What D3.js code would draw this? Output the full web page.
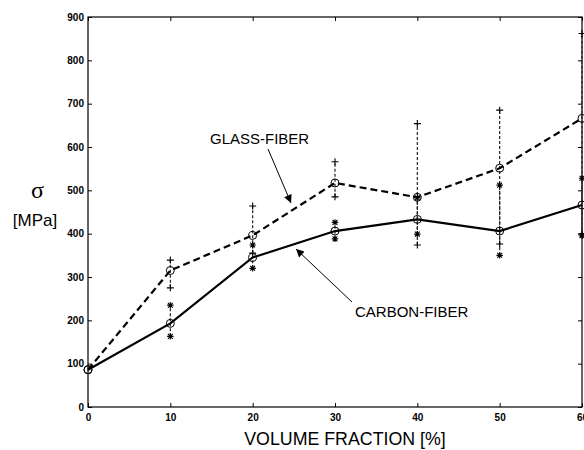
<!DOCTYPE html>
<html><head><meta charset="utf-8">
<script src="https://cdnjs.cloudflare.com/ajax/libs/d3/7.8.5/d3.min.js"></script>
<style>body{margin:0;background:#fff}svg{display:block}</style>
</head><body>
<script>
const fractions = [0, 10, 20, 30, 40, 50, 60];
const glassMean = [86, 315, 396, 517, 484, 551, 666];
const glassLow  = [null, 275, 355, 485, 374, 376, 400];
const glassHigh = [null, 339, 464, 566, 654, 685, 862];
const carbonMean = [86, 193, 345, 406, 433, 406, 466];
const carbonLow  = [null, 163, 320, 388, 399, 350, 395];
const carbonHigh = [null, 235, 374, 426, 483, 512, 528];
const xTicks = [0, 10, 20, 30, 40, 50, 60];
const yTicks = [0, 100, 200, 300, 400, 500, 600, 700, 800, 900];

const W = 584, H = 450;
const svg = d3.select("body").append("svg").attr("width", W).attr("height", H);
const x = d3.scaleLinear().domain([0, 60]).range([88, 582]);
const y = d3.scaleLinear().domain([0, 900]).range([407, 17]);

const tickFont = "'Liberation Sans', Arial, sans-serif";

// axes
const gB = svg.append("g").attr("transform", `translate(0,${y(0)})`)
  .call(d3.axisBottom(x).tickValues(xTicks).tickSize(-4).tickPadding(7).tickFormat(d3.format("d")));
const gL = svg.append("g").attr("transform", `translate(${x(0)},0)`)
  .call(d3.axisLeft(y).tickValues(yTicks).tickSize(-4).tickPadding(4).tickFormat(d3.format("d")));
const gT = svg.append("g").attr("transform", `translate(0,${y(900)})`)
  .call(d3.axisTop(x).tickValues(xTicks).tickSize(-4).tickFormat(""));
const gR = svg.append("g").attr("transform", `translate(${x(60)},0)`)
  .call(d3.axisRight(y).tickValues(yTicks).tickSize(-4).tickFormat(""));
[gB, gL, gT, gR].forEach(g => {
  g.select(".domain").remove();
  g.selectAll("line").attr("stroke", "#000").attr("stroke-width", 1);
  g.selectAll("text").attr("font-family", tickFont).attr("font-weight", "bold")
    .attr("font-size", 10).attr("fill", "#000");
});
svg.append("rect").attr("x", x(0)).attr("y", y(900))
  .attr("width", x(60) - x(0)).attr("height", y(0) - y(900))
  .attr("fill", "none").attr("stroke", "#000").attr("stroke-width", 1.2);

// error bars
function errBars(low, high) {
  fractions.forEach((f, i) => {
    if (low[i] == null) return;
    svg.append("line").attr("x1", x(f)).attr("x2", x(f))
      .attr("y1", y(low[i])).attr("y2", y(high[i]))
      .attr("stroke", "#222").attr("stroke-width", 1.2).attr("stroke-dasharray", "3,2");
  });
}
errBars(glassLow, glassHigh);
errBars(carbonLow, carbonHigh);

// lines
const line = d3.line().x((d, i) => x(fractions[i])).y(d => y(d));
svg.append("path").attr("d", line(glassMean)).attr("fill", "none")
  .attr("stroke", "#000").attr("stroke-width", 2.2).attr("stroke-dasharray", "7,4");
svg.append("path").attr("d", line(carbonMean)).attr("fill", "none")
  .attr("stroke", "#000").attr("stroke-width", 2.2);

// markers
function plus(cx, cy, s) {
  svg.append("path").attr("d", `M${cx - s},${cy}H${cx + s}M${cx},${cy - s}V${cy + s}`)
    .attr("stroke", "#000").attr("stroke-width", 1.1).attr("fill", "none");
}
function star(cx, cy, s) {
  const d = s * 0.75;
  svg.append("path").attr("d",
    `M${cx - s},${cy}H${cx + s}M${cx},${cy - s}V${cy + s}M${cx - d},${cy - d}L${cx + d},${cy + d}M${cx - d},${cy + d}L${cx + d},${cy - d}`)
    .attr("stroke", "#000").attr("stroke-width", 1.1).attr("fill", "none");
}
fractions.forEach((f, i) => {
  if (glassLow[i] != null) { plus(x(f), y(glassLow[i]), 3.5); plus(x(f), y(glassHigh[i]), 3.5); }
  if (carbonLow[i] != null) { star(x(f), y(carbonLow[i]), 3.2); star(x(f), y(carbonHigh[i]), 3.2); }
});
[glassMean, carbonMean].forEach(arr => {
  arr.forEach((v, i) => {
    svg.append("circle").attr("cx", x(fractions[i])).attr("cy", y(v)).attr("r", 4)
      .attr("fill", "none").attr("stroke", "#000").attr("stroke-width", 1);
  });
});

// annotations
const labFont = "'Liberation Sans', Arial, sans-serif";
svg.append("text").attr("x", 210).attr("y", 143.5).text("GLASS-FIBER")
  .attr("font-family", labFont).attr("font-size", 15).attr("fill", "#000");
svg.append("text").attr("x", 355).attr("y", 317).text("CARBON-FIBER")
  .attr("font-family", labFont).attr("font-size", 15).attr("fill", "#000");

svg.append("defs").append("marker").attr("id", "ah").attr("viewBox", "0 0 10 10")
  .attr("refX", 10).attr("refY", 5).attr("markerWidth", 10).attr("markerHeight", 8)
  .attr("markerUnits", "userSpaceOnUse").attr("orient", "auto")
  .append("path").attr("d", "M0,0L10,5L0,10Z").attr("fill", "#000");
svg.append("line").attr("x1", 268).attr("y1", 149).attr("x2", 291).attr("y2", 203)
  .attr("stroke", "#000").attr("stroke-width", 1).attr("marker-end", "url(#ah)");
svg.append("line").attr("x1", 352).attr("y1", 302).attr("x2", 296).attr("y2", 249)
  .attr("stroke", "#000").attr("stroke-width", 1).attr("marker-end", "url(#ah)");

// axis titles
svg.append("text").attr("x", 345).attr("y", 445).attr("text-anchor", "middle")
  .text("VOLUME FRACTION [%]").attr("font-family", labFont).attr("font-size", 17.8).attr("fill", "#000");
svg.append("text").attr("x", 37.5).attr("y", 198).attr("text-anchor", "middle")
  .text("σ").attr("font-family", "'Liberation Serif', 'Times New Roman', serif").attr("font-size", 24).attr("fill", "#000");
svg.append("text").attr("x", 35).attr("y", 226).attr("text-anchor", "middle")
  .text("[MPa]").attr("font-family", labFont).attr("font-size", 17).attr("fill", "#000");
</script>
</body></html>
